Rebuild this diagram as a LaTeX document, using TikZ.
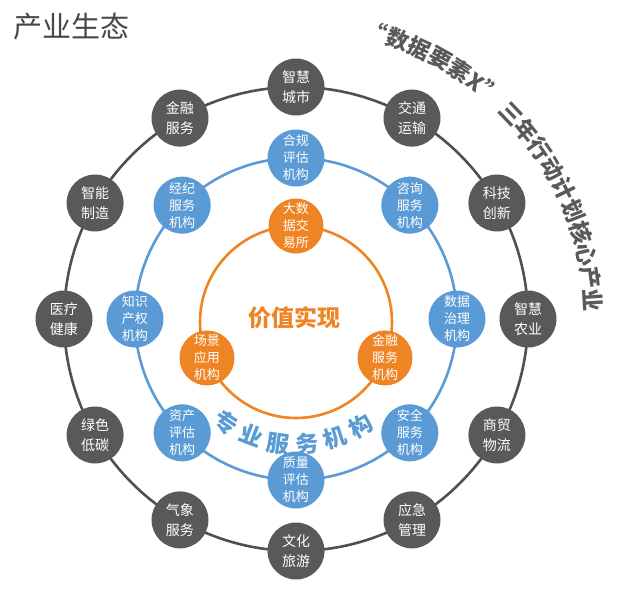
\documentclass[tikz,border=0pt]{standalone}
\usepackage{fontspec}
\setmainfont{Noto Sans CJK SC}
\usepackage{tikz}
\usetikzlibrary{calc,decorations.text}
\definecolor{ringgray}{HTML}{505050}
\definecolor{nodegray}{HTML}{595959}
\definecolor{svcblue}{HTML}{5B9BD5}
\definecolor{valorange}{HTML}{EE8424}

\begin{document}
\begin{tikzpicture}[
  x=1pt, y=1pt,
  font=\fontsize{13}{17}\selectfont,
  bubble/.style={circle, inner sep=0pt, minimum size=57pt, align=center, text=white},
  industry/.style={bubble, fill=nodegray, font=\fontsize{14}{20}\selectfont},
  agency/.style={bubble, fill=svcblue},
  market/.style={bubble, fill=valorange, minimum size=55pt},
  ring/.style={line width=2.6pt}
]
  \useasboundingbox (-296,-279) rectangle (330,319);
  \node[text=black!72, font=\fontsize{29}{29}\selectfont, anchor=west] (title) at (-286,292) {产业生态};

  \coordinate (core) at (0,-3);
  \draw[ring, draw=ringgray] (0,0) circle[radius=232];
  \draw[ring, draw=svcblue] (0,0) circle[radius=161];
  \draw[ring, draw=valorange] (core) circle[radius=96];

  \node[industry] (city) at (90:232) {智慧\\城市};
  \node[industry] (traffic) at (60:232) {交通\\运输};
  \node[industry] (tech) at (30:232) {科技\\创新};
  \node[industry] (farm) at (0:232) {智慧\\农业};
  \node[industry] (trade) at (-30:232) {商贸\\物流};
  \node[industry] (emergency) at (-60:232) {应急\\管理};
  \node[industry] (tourism) at (-90:232) {文化\\旅游};
  \node[industry] (weather) at (-120:232) {气象\\服务};
  \node[industry] (green) at (-150:232) {绿色\\低碳};
  \node[industry] (health) at (180:232) {医疗\\健康};
  \node[industry] (making) at (150:232) {智能\\制造};
  \node[industry] (finance) at (120:232) {金融\\服务};

  \node[agency] (compliance) at (90:161) {合规\\评估\\机构};
  \node[agency] (consult) at (45:161) {咨询\\服务\\机构};
  \node[agency] (governance) at (0:161) {数据\\治理\\机构};
  \node[agency] (security) at (-45:161) {安全\\服务\\机构};
  \node[agency] (quality) at (-90:161) {质量\\评估\\机构};
  \node[agency] (asset) at (-135:161) {资产\\评估\\机构};
  \node[agency] (patent) at (180:161) {知识\\产权\\机构};
  \node[agency] (broker) at (135:161) {经纪\\服务\\机构};

  \node[market] (exchange) at ($(core)+(90:96)$) {大数\\据交\\易所};
  \node[market] (scene) at ($(core)+(202:96)$) {场景\\应用\\机构};
  \node[market] (fund) at ($(core)+(338:96)$) {金融\\服务\\机构};

  \node[text=valorange, font=\fontsize{23}{23}\selectfont\bfseries] (value) at (-1,1) {价值实现};

  \path[decorate, decoration={text along path, text align={fit to path},
    text={|\fontsize{23}{23}\selectfont\bfseries\color{svcblue}|专业服务机构}}]
    (231:134) arc[start angle=231, end angle=306, radius=134];
  \path[decorate, decoration={text along path, text align=center,
    text={|\fontsize{22.5}{22.5}\selectfont\bfseries\color{nodegray}|“数据要素X” 三年行动计划核心产业}}]
    (78:289) arc[start angle=78, end angle=0, radius=289];
\end{tikzpicture}
\end{document}
